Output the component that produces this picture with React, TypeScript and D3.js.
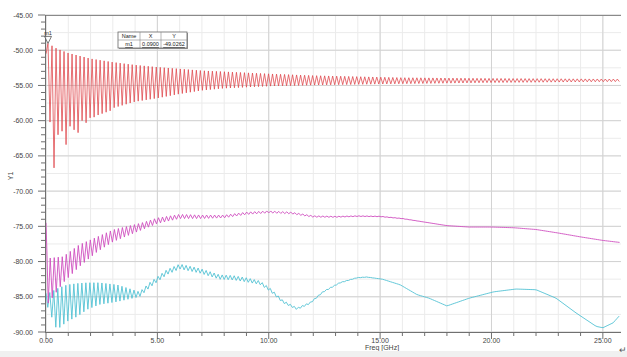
import React from 'react';
import * as d3 from 'd3';

const W = 627;
const H = 357;

// axes
const xTicks = [0, 5, 10, 15, 20, 25];
const xTickLabels = ['0.00', '5.00', '10.00', '15.00', '20.00', '25.00'];
const yTicks = [-45, -50, -55, -60, -65, -70, -75, -80, -85, -90];
const yTickLabels = ['-45.00', '-50.00', '-55.00', '-60.00', '-65.00', '-70.00', '-75.00', '-80.00', '-85.00', '-90.00'];
const fMax = 25.77;

// ripple half period (GHz)
const rippleHalf = 0.09;

// Red trace: peak / trough envelopes
const redStart: [number, number][] = [[0, -50.5]];
const redUpperF = [0.09, 0.5, 1, 2, 3, 4, 5, 7, 10, 12, 16, 20, 25.8];
const redUpperV = [-49.03, -49.8, -50.4, -51.2, -51.7, -52.1, -52.4, -52.9, -53.35, -53.6, -53.9, -54.0, -54.1];
const redEarlyTroughs = [-60.2, -66.7, -62.0, -61.5, -63.4, -60.8, -61.3, -61.7, -60.0, -60.3, -59.6, -59.5, -59.2, -59.0, -58.8, -58.6];
const redLowerF = [2.9, 4, 5, 6, 7, 8, 10, 12, 15, 20, 25.8];
const redLowerV = [-58.3, -57.3, -56.8, -56.2, -55.7, -55.4, -55.1, -54.95, -54.8, -54.6, -54.45];

// Magenta trace: start, then mid line + ripple amplitude
const magStart: [number, number][] = [[0, -74.5], [0.04, -78.5], [0.1, -85.9]];
const magMidF = [0.2, 0.77, 1.5, 2.3, 3.0, 4.3, 5, 6, 7, 8, 9, 10, 11, 12, 13, 14, 15, 16, 17, 18, 19, 20, 21, 22, 23, 24, 25, 25.8];
const magMidV = [-82.5, -81.15, -79.15, -77.55, -76.35, -75.0, -74.2, -73.6, -73.65, -73.6, -73.15, -72.95, -73.1, -73.6, -73.65, -73.55, -73.6, -73.9, -74.4, -74.9, -75.1, -75.1, -75.2, -75.45, -75.95, -76.5, -77.0, -77.3];
const magAmpF = [0.2, 0.77, 1.5, 2.3, 3.0, 4.3, 5, 6, 7, 8, 9, 10, 11, 12, 13, 14, 15, 16, 17];
const magAmpV = [6, 3.7, 3.1, 2.1, 1.7, 1.0, 0.8, 0.6, 0.5, 0.4, 0.35, 0.3, 0.25, 0.2, 0.15, 0.1, 0.08, 0.05, 0];

// Cyan trace
const cyaStart: [number, number][] = [[0, -84.5], [0.08, -86.5]];
const cyaMidF = [0.2, 0.4, 0.6, 0.95, 1.4, 1.85, 2.4, 3.2, 3.9, 4.2, 4.67, 5.43, 6.0, 6.9, 7.8, 8.4, 9.0, 9.6, 10.06, 10.64, 11.27, 11.85, 12.44, 13.2, 13.96, 14.4, 15.1, 15.9, 16.66, 17.2, 18.0, 19.0, 20.1, 21.1, 22.0, 22.9, 23.8, 24.7, 25.0, 25.46, 25.8];
const cyaMidV = [-85.85, -86.65, -86.55, -85.9, -85.45, -84.9, -84.55, -84.5, -84.6, -84.65, -83.3, -81.5, -80.7, -81.3, -82.2, -82.3, -82.6, -83.0, -84.0, -85.7, -86.7, -85.9, -84.3, -83.0, -82.3, -82.2, -82.5, -83.3, -84.7, -85.2, -86.3, -85.2, -84.3, -83.9, -84.0, -85.2, -87.3, -89.2, -89.4, -88.7, -87.5];
const cyaAmpF = [0.2, 0.4, 0.6, 0.95, 1.4, 1.85, 2.4, 3.2, 3.9, 4.2, 6, 9, 11, 13, 15];
const cyaAmpV = [2.9, 5.3, 5.7, 5.2, 4.7, 3.8, 3.1, 2.4, 1.2, 0.7, 0.7, 0.6, 0.3, 0.1, 0];

const pw = (F: number[], V: number[]) => d3.scaleLinear().domain(F).range(V).clamp(true);

function envelopeZigzag(start: [number, number][], f0: number, hi: (f: number) => number, lo: (f: number) => number, early: number[] = []) {
  const pts: [number, number][] = [...start];
  for (let k = 0; f0 + k * rippleHalf <= fMax + 1e-9; k++) {
    const f = f0 + k * rippleHalf;
    let v: number;
    if (k % 2 === 0) v = hi(f);
    else {
      const j = (k - 1) / 2;
      v = j < early.length ? early[j] : lo(f);
    }
    pts.push([f, v]);
  }
  return pts;
}

function midZigzag(start: [number, number][], f0: number, mid: (f: number) => number, amp: (f: number) => number) {
  return envelopeZigzag(start, f0, (f) => mid(f) + amp(f) / 2, (f) => mid(f) - amp(f) / 2);
}

const redPts = envelopeZigzag(redStart, 0.09, pw(redUpperF, redUpperV), pw(redLowerF, redLowerV), redEarlyTroughs);
const magPts = midZigzag(magStart, 0.19, pw(magMidF, magMidV), pw(magAmpF, magAmpV));
const cyaPts = midZigzag(cyaStart, 0.17, pw(cyaMidF, cyaMidV), pw(cyaAmpF, cyaAmpV));

export default function App() {
  const x = d3.scaleLinear().domain([0, fMax]).range([46, 620]);
  const y = d3.scaleLinear().domain([-90, -45]).range([332, 15]);
  const line = d3.line<[number, number]>().x((d) => x(d[0])).y((d) => y(d[1]));
  const minorX = d3.range(0, 26, 1);
  const minorY = d3.range(-90, -44.9, 2.5);
  const tickY = d3.range(-90, -44.9, 1);
  const font = 'Liberation Sans, Arial, sans-serif';
  const mx = x(0.09);
  const my = y(-49.03);
  return (
    <svg width={W} height={H} style={{ position: 'absolute', left: 0, top: 0, background: '#fff' }}>
      <defs>
        <clipPath id="plot">
          <rect x={45} y={15} width={576} height={318} />
        </clipPath>
      </defs>
      <rect x={0} y={0} width={W} height={H} fill="#fff" />
      {/* minor grid */}
      {minorX.map((f) => (
        <line key={'vx' + f} x1={x(f)} x2={x(f)} y1={15} y2={332} stroke="#ebebeb" strokeWidth={1} />
      ))}
      {minorY.map((v) => (
        <line key={'hy' + v} x1={45} x2={621} y1={y(v)} y2={y(v)} stroke="#ebebeb" strokeWidth={1} />
      ))}
      {/* major grid */}
      {xTicks.map((f) => (
        <line key={'mx' + f} x1={x(f)} x2={x(f)} y1={15} y2={332} stroke="#d2d2d2" strokeWidth={1} />
      ))}
      {yTicks.map((v) => (
        <line key={'my' + v} x1={45} x2={621} y1={y(v)} y2={y(v)} stroke="#d2d2d2" strokeWidth={1} />
      ))}
      {/* traces */}
      <g clipPath="url(#plot)" fill="none">
        <path d={line(cyaPts) || ''} stroke="#52c2d4" strokeWidth={0.9} />
        <path d={line(magPts) || ''} stroke="#cf4fbf" strokeWidth={0.9} />
        <path d={line(redPts) || ''} stroke="#e04a4f" strokeWidth={0.8} />
      </g>
      {/* frame */}
      <line x1={45} x2={621} y1={15.5} y2={15.5} stroke="#8a8a8a" strokeWidth={1} />
      <line x1={45.5} x2={45.5} y1={15} y2={332} stroke="#707070" strokeWidth={1} />
      <line x1={45} x2={621} y1={332.5} y2={332.5} stroke="#707070" strokeWidth={1} />
      {tickY.map((v) => (
        <line key={'ty' + v} x1={v % 5 === 0 ? 38 : 41} x2={45} y1={y(v)} y2={y(v)} stroke="#707070" strokeWidth={1} />
      ))}
      {minorX.map((f) => (
        <line key={'tx' + f} x1={x(f)} x2={x(f)} y1={332} y2={f % 5 === 0 ? 339 : 336} stroke="#707070" strokeWidth={1} />
      ))}
      {yTicks.map((v, i) => (
        <text key={'ly' + v} x={33} y={y(v) + 2.5} fontSize={7} fontFamily={font} fill="#444" textAnchor="end">
          {yTickLabels[i]}
        </text>
      ))}
      {xTicks.map((f, i) => (
        <text key={'lx' + f} x={x(f)} y={343} fontSize={7} fontFamily={font} fill="#444" textAnchor="middle">
          {xTickLabels[i]}
        </text>
      ))}
      <text x={382} y={350} fontSize={7} fontFamily={font} fill="#444" textAnchor="middle">Freq [GHz]</text>
      <text transform="translate(13,176) rotate(-90)" fontSize={7} fontFamily={font} fill="#444" textAnchor="middle">Y1</text>
      {/* marker */}
      <path d={`M${mx - 3.5},${my - 7} L${mx + 3.5},${my - 7} L${mx},${my} Z`} fill="#fff" fillOpacity={0.6} stroke="#555" strokeWidth={0.8} />
      <text x={mx} y={my - 8} fontSize={5.5} fontFamily={font} fill="#333" textAnchor="middle">m1</text>
      {/* marker table */}
      <rect x={119} y={33} width={69} height={16} fill="#999" />
      <rect x={118} y={32} width={69} height={16} fill="#fff" stroke="#666" strokeWidth={0.8} />
      <line x1={118} x2={187} y1={40} y2={40} stroke="#888" strokeWidth={0.6} />
      <line x1={140} x2={140} y1={32} y2={48} stroke="#888" strokeWidth={0.6} />
      <line x1={161} x2={161} y1={32} y2={48} stroke="#888" strokeWidth={0.6} />
      <text x={129} y={38.3} fontSize={5.5} fontFamily={font} fill="#222" textAnchor="middle">Name</text>
      <text x={150.5} y={38.3} fontSize={5.5} fontFamily={font} fill="#222" textAnchor="middle">X</text>
      <text x={174} y={38.3} fontSize={5.5} fontFamily={font} fill="#222" textAnchor="middle">Y</text>
      <text x={129} y={46.3} fontSize={5.5} fontFamily={font} fill="#222" textAnchor="middle" textDecoration="underline">m1</text>
      <text x={150.5} y={46.3} fontSize={5.5} fontFamily={font} fill="#222" textAnchor="middle" textDecoration="underline">0.0900</text>
      <text x={174} y={46.3} fontSize={5.5} fontFamily={font} fill="#222" textAnchor="middle" textDecoration="underline">-49.0262</text>
      {/* page band */}
      <rect x={0} y={351} width={W} height={6} fill="#f0f0f0" />
      <text x={619} y={353} fontSize={9} fontFamily={font} fill="#555">↵</text>
    </svg>
  );
}
